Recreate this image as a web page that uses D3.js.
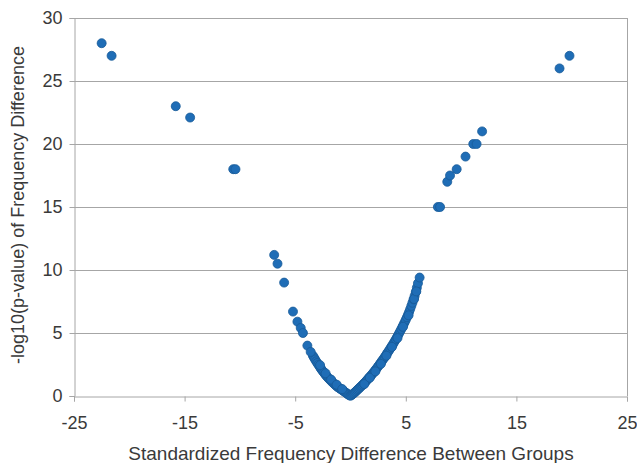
<!DOCTYPE html>
<html>
<head>
<meta charset="utf-8">
<script src="https://cdn.jsdelivr.net/npm/d3@7"></script>
<style>
  body { margin: 0; background: #fff; }
  svg text { font-family: "Liberation Sans", Arial, sans-serif; fill: #3a3a3a; }
</style>
</head>
<body>
<script>
// outlying points, [x, y]
const outliers = [
  [-22.5, 28.0], [-21.6, 27.0], [-15.8, 23.0], [-14.5, 22.1],
  [-10.6, 18.0], [-10.4, 18.0], [-6.9, 11.2], [-6.6, 10.5], [-6.0, 9.0],
  [-5.2, 6.7], [-4.8, 5.9], [-4.5, 5.4], [-4.3, 5.0], [-3.9, 4.0], [-3.6, 3.5],
  [7.9, 15.0], [8.1, 15.0], [8.75, 17.0], [9.0, 17.5], [9.6, 18.0],
  [10.4, 19.0], [11.1, 20.0], [11.4, 20.0], [11.9, 21.0],
  [18.9, 26.0], [19.8, 27.0]
];

// dense left arm of the V
const leftArm = [
  [-3.4, 3.2], [-3.3, 3.05], [-3.2, 2.9], [-3.1, 2.75], [-3.0, 2.62], [-2.9, 2.48],
  [-2.8, 2.35], [-2.7, 2.2], [-2.6, 2.08], [-2.5, 1.96], [-2.4, 1.85], [-2.3, 1.73],
  [-2.2, 1.62], [-2.1, 1.52], [-2.0, 1.42], [-1.9, 1.33], [-1.8, 1.24], [-1.7, 1.15],
  [-1.6, 1.06], [-1.5, 0.98], [-1.4, 0.9], [-1.3, 0.82], [-1.2, 0.74], [-1.1, 0.68],
  [-1.0, 0.62], [-0.9, 0.56], [-0.8, 0.5], [-0.7, 0.44], [-0.6, 0.38], [-0.5, 0.31],
  [-0.4, 0.25], [-0.3, 0.18], [-0.2, 0.12], [-0.1, 0.06], [0.0, 0.02],
  [-2.75, 2.45], [-2.25, 1.8], [-1.75, 1.3], [-1.25, 0.9], [-0.75, 0.55]
];

// dense right arm of the V
const rightArm = [
  [0.1, 0.08], [0.2, 0.15], [0.3, 0.22], [0.4, 0.3], [0.5, 0.38], [0.6, 0.47],
  [0.7, 0.55], [0.8, 0.63], [0.9, 0.72], [1.0, 0.8], [1.1, 0.89], [1.2, 0.98],
  [1.3, 1.07], [1.4, 1.17], [1.5, 1.27], [1.6, 1.37], [1.7, 1.47], [1.8, 1.57],
  [1.9, 1.67], [2.0, 1.78], [2.1, 1.89], [2.2, 2.0], [2.3, 2.11], [2.4, 2.23],
  [2.5, 2.35], [2.6, 2.47], [2.7, 2.6], [2.8, 2.72], [2.9, 2.85], [3.0, 2.97],
  [3.1, 3.1], [3.2, 3.23], [3.3, 3.37], [3.4, 3.5], [3.5, 3.63], [3.6, 3.77],
  [3.7, 3.91], [3.8, 4.05], [3.9, 4.2], [4.0, 4.35], [4.1, 4.5], [4.2, 4.66],
  [4.3, 4.82], [4.4, 4.98], [4.5, 5.15], [4.6, 5.32], [4.7, 5.5], [4.8, 5.68],
  [4.9, 5.86], [5.0, 6.05], [5.1, 6.25], [5.2, 6.45], [5.3, 6.67], [5.4, 6.9],
  [5.5, 7.15], [5.6, 7.4], [5.7, 7.67], [5.8, 7.95], [5.9, 8.25], [6.0, 8.6],
  [6.1, 8.95], [6.25, 9.4],
  [1.25, 0.95], [1.75, 1.45], [2.25, 1.95], [2.75, 2.55], [3.25, 3.2],
  [3.75, 3.9], [4.25, 4.6], [4.75, 5.5], [5.25, 6.4], [5.75, 7.7], [5.95, 8.3]
];

const xTicks = [-25, -15, -5, 5, 15, 25];
const yTicks = [0, 5, 10, 15, 20, 25, 30];
const xTitle = "Standardized Frequency Difference Between Groups";
const yTitle = "-log10(p-value) of Frequency Difference";

const width = 637, height = 463;
const plotL = 74, plotR = 627, plotT = 18, plotB = 396;

const svg = d3.select("body").append("svg")
  .attr("width", width)
  .attr("height", height);

const x = d3.scaleLinear().domain([-25, 25]).range([plotL, plotR]);
const y = d3.scaleLinear().domain([0, 30]).range([plotB, plotT]);

// gridlines
svg.append("g")
  .selectAll("line")
  .data(yTicks.filter(d => d > 0))
  .join("line")
  .attr("x1", plotL).attr("x2", plotR)
  .attr("y1", d => y(d) + 0.5).attr("y2", d => y(d) + 0.5)
  .attr("stroke", "#a6a6a6");

// right border
svg.append("line")
  .attr("x1", plotR + 0.5).attr("x2", plotR + 0.5)
  .attr("y1", plotT).attr("y2", plotB)
  .attr("stroke", "#a6a6a6");

// axes, plain hyphen minus like the original
const fmt = d => String(d);
const xAxis = svg.append("g")
  .attr("transform", `translate(0,${plotB + 0.5})`)
  .call(d3.axisBottom(x).tickValues(xTicks).tickFormat(fmt).tickSize(5).tickPadding(15));
const yAxis = svg.append("g")
  .attr("transform", `translate(${plotL + 0.5},0)`)
  .call(d3.axisLeft(y).tickValues(yTicks).tickFormat(fmt).tickSize(5).tickPadding(7));

[xAxis, yAxis].forEach(g => {
  g.select(".domain").attr("stroke", "#a6a6a6");
  g.selectAll(".tick line").attr("stroke", "#a6a6a6");
  g.selectAll(".tick text")
    .style("font-size", "18px")
    .attr("fill", "#3a3a3a");
});

// points
const allPoints = [...leftArm, ...rightArm, ...outliers];
svg.append("g")
  .selectAll("circle")
  .data(allPoints)
  .join("circle")
  .attr("cx", d => x(d[0]))
  .attr("cy", d => y(d[1]))
  .attr("r", 4.5)
  .attr("fill", "#1f6db6")
  .attr("stroke", "#185a98")
  .attr("stroke-width", 0.8);

// titles
svg.append("text")
  .attr("x", 351)
  .attr("y", 460)
  .attr("text-anchor", "middle")
  .style("font-size", "19px")
  .text(xTitle);

svg.append("text")
  .attr("transform", `translate(24,${(plotT + plotB) / 2 - 2}) rotate(-90)`)
  .attr("text-anchor", "middle")
  .style("font-size", "18px")
  .text(yTitle);
</script>
</body>
</html>
